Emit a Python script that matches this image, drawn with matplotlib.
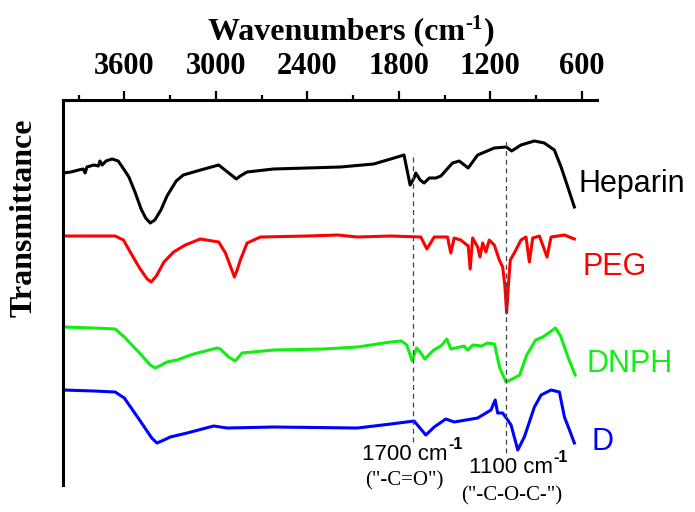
import numpy as np
import matplotlib
matplotlib.use("Agg")
import matplotlib.pyplot as plt

# === FTIR spectra (wavenumber in cm-1, transmittance in a.u., stacked) ===
heparin_wn = np.array([4000, 3950, 3900, 3870, 3857, 3845, 3800, 3770, 3760, 3745, 3720, 3680, 3640,
                       3600, 3570, 3530, 3490, 3460, 3430, 3400, 3360, 3320, 3260, 3213, 3100, 2981,
                       2940, 2865, 2840, 2795, 2622, 2182, 1965, 1853, 1766, 1726, 1700, 1689, 1660,
                       1634, 1600, 1557, 1524, 1448, 1404, 1345, 1283, 1174, 1095, 1060, 999, 911,
                       846, 780, 736, 692, 649])
heparin_t = np.array([339, 340, 342, 343, 339, 345, 347, 346, 351, 347, 351, 353, 351,
                      342, 335, 320, 303, 294, 289, 292, 302, 316, 331, 337, 342, 347,
                      342, 333, 336, 340, 343, 345, 348, 353, 357, 327, 334, 339, 332,
                      329, 334, 334, 336, 349, 351, 344, 357, 364, 365, 361, 367, 371,
                      369, 362, 345, 325, 305])

peg_wn = np.array([4000, 3800, 3660, 3606, 3550, 3500, 3450, 3424, 3390, 3340, 3277, 3200, 3102,
                   2981, 2937, 2900, 2878, 2860, 2839, 2795, 2707, 2400, 2200, 2072, 1853, 1656,
                   1616, 1568, 1481, 1459, 1437, 1394, 1345, 1332, 1316, 1283, 1268, 1250, 1229,
                   1207, 1174, 1141, 1119, 1105, 1093, 1080, 1069, 1043, 999, 966, 944, 922,
                   878, 828, 802, 714, 649])
peg_t = np.array([276, 276, 276, 272, 257, 244, 233, 230, 236, 250, 260, 267, 273,
                  270, 259, 244, 235, 242, 252, 269, 275, 276, 277, 275, 276, 275,
                  263, 275, 275, 259, 274, 272, 266, 243, 274, 265, 255, 269, 260,
                  272, 267, 252, 245, 227, 199, 230, 252, 259, 272, 275, 250, 274,
                  276, 255, 275, 277, 273])

dnph_wn = np.array([4000, 3800, 3660, 3600, 3500, 3430, 3398, 3370, 3321, 3255, 3146, 2992, 2970,
                    2916, 2872, 2828, 2620, 2291, 2072, 1853, 1783, 1748, 1712, 1684, 1660, 1630,
                    1571, 1524, 1485, 1459, 1372, 1349, 1314, 1255, 1220, 1173, 1138, 1097, 1043,
                    1008, 961, 903, 855, 773, 739, 691, 644])
dnph_t = np.array([185, 184, 183, 175, 159, 147, 144, 146, 150, 152, 158, 164, 163,
                   155, 151, 159, 162, 163, 165, 170, 171, 167, 151, 164, 160, 153,
                   162, 166, 173, 163, 166, 162, 167, 166, 169, 168, 144, 130, 134,
                   137, 157, 172, 175, 184, 176, 155, 137])

d_wn = np.array([4000, 3800, 3660, 3600, 3500, 3420, 3386, 3340, 3299, 3189, 3014, 2926, 2620,
                 2072, 1853, 1700, 1623, 1568, 1492, 1437, 1283, 1196, 1168, 1152, 1119, 1086,
                 1064, 1020, 977, 911, 867, 802, 747, 714, 681, 649])
d_t = np.array([122, 121, 120, 114, 92, 74, 69, 72, 75, 79, 86, 84, 85,
                84, 88, 91, 77, 85, 93, 90, 94, 102, 112, 99, 99, 92,
                87, 62, 75, 105, 117, 122, 120, 95, 82, 69])

series_names = ["Heparin", "PEG", "DNPH", "D"]
series_colors = ["#000000", "#ff0000", "#11ee11", "#0000ff"]
label_wn = [624, 593, 572, 539]
label_t = [320, 237, 140, 62]

# marker lines for the two bands
band_wn = [1710, 1095]
band_top = [359, 372]
band_bottom = [70, 59]
band_text = ["1700 cm", "1100 cm"]
band_text_pos = [(2039, 47), (1340, 34)]
group_text = ['("-C=O")', '("-C-O-C-")']
group_text_pos = [(2024, 27), (1393, 12)]

SERIF = "Liberation Serif"
SANS = "Liberation Sans"

# === Plot ===
fig = plt.figure(figsize=(6.95, 5.12), dpi=100)
ax = fig.add_axes([0.0911, 0.0527, 0.768, 0.752])

spectra = [(heparin_wn, heparin_t), (peg_wn, peg_t), (dnph_wn, dnph_t), (d_wn, d_t)]
for (wn, t), name, color, lx, ly in zip(spectra, series_names, series_colors, label_wn, label_t):
    ax.plot(wn, t, color=color, linewidth=2.2, solid_joinstyle="round")
    ax.text(lx, ly, name, color=color, fontsize=22, family=SANS, ha="left", va="baseline")

for wn, y0, y1 in zip(band_wn, band_bottom, band_top):
    ax.plot([wn, wn], [y0, y1], color="#444444", linewidth=0.9, linestyle=(0, (4, 3)))

# band labels, "-1" added as a raised piece so it stays a short hyphen
for txt, (x, y) in zip(band_text, band_text_pos):
    t = ax.text(x, y, txt, fontsize=16, family=SANS, ha="left", va="bottom")
    ax.annotate("-1", xy=(1, 0), xycoords=t, xytext=(0.5, 11.5), textcoords="offset points",
                ha="left", va="baseline", fontsize=11.5, family=SANS, fontweight="bold",
                annotation_clip=False)
for txt, (x, y) in zip(group_text, group_text_pos):
    ax.text(x, y, txt, fontsize=15, family=SERIF, ha="left", va="baseline")

ax.set_xlim(4000, 500)
ax.set_ylim(27, 412)
ax.set_xticks([3600, 3000, 2400, 1800, 1200, 600])
ax.set_xticks([3900, 3300, 2700, 2100, 1500, 900], minor=True)
ax.set_yticks([])
ax.xaxis.tick_top()
ax.tick_params(axis="x", which="major", direction="out", length=6.5, width=1.6, pad=7)
ax.tick_params(axis="x", which="minor", direction="out", length=3.5, width=1.6)
for lab in ax.get_xticklabels():
    lab.set_fontfamily(SERIF)
    lab.set_fontweight("bold")
    lab.set_fontsize(22)

ax.spines["bottom"].set_visible(False)
ax.spines["right"].set_visible(False)
ax.spines["left"].set_linewidth(2.2)
ax.spines["top"].set_linewidth(2.2)

# title on top, built in pieces so the superscript keeps a short hyphen
title = fig.text(208 / 695, 1 - 46 / 512, "Wavenumbers (cm", ha="left", va="bottom",
                 fontsize=23, family=SERIF, fontweight="bold")
sup = ax.annotate("-1", xy=(1, 0), xycoords=title, xytext=(0.5, 12.5), textcoords="offset points",
                  ha="left", va="baseline", fontsize=15, family=SERIF, fontweight="bold",
                  annotation_clip=False)
ax.annotate(")", xy=(1, 0), xycoords=(sup, title), xytext=(0.5, 0), textcoords="offset points",
            ha="left", va="bottom", fontsize=23, family=SERIF, fontweight="bold",
            annotation_clip=False)

fig.text(24 / 695, 1 - 218 / 512, "Transmittance", rotation=90, ha="center", va="center",
         fontsize=23, family=SERIF, fontweight="bold")

fig.savefig("out.png", dpi=100)
